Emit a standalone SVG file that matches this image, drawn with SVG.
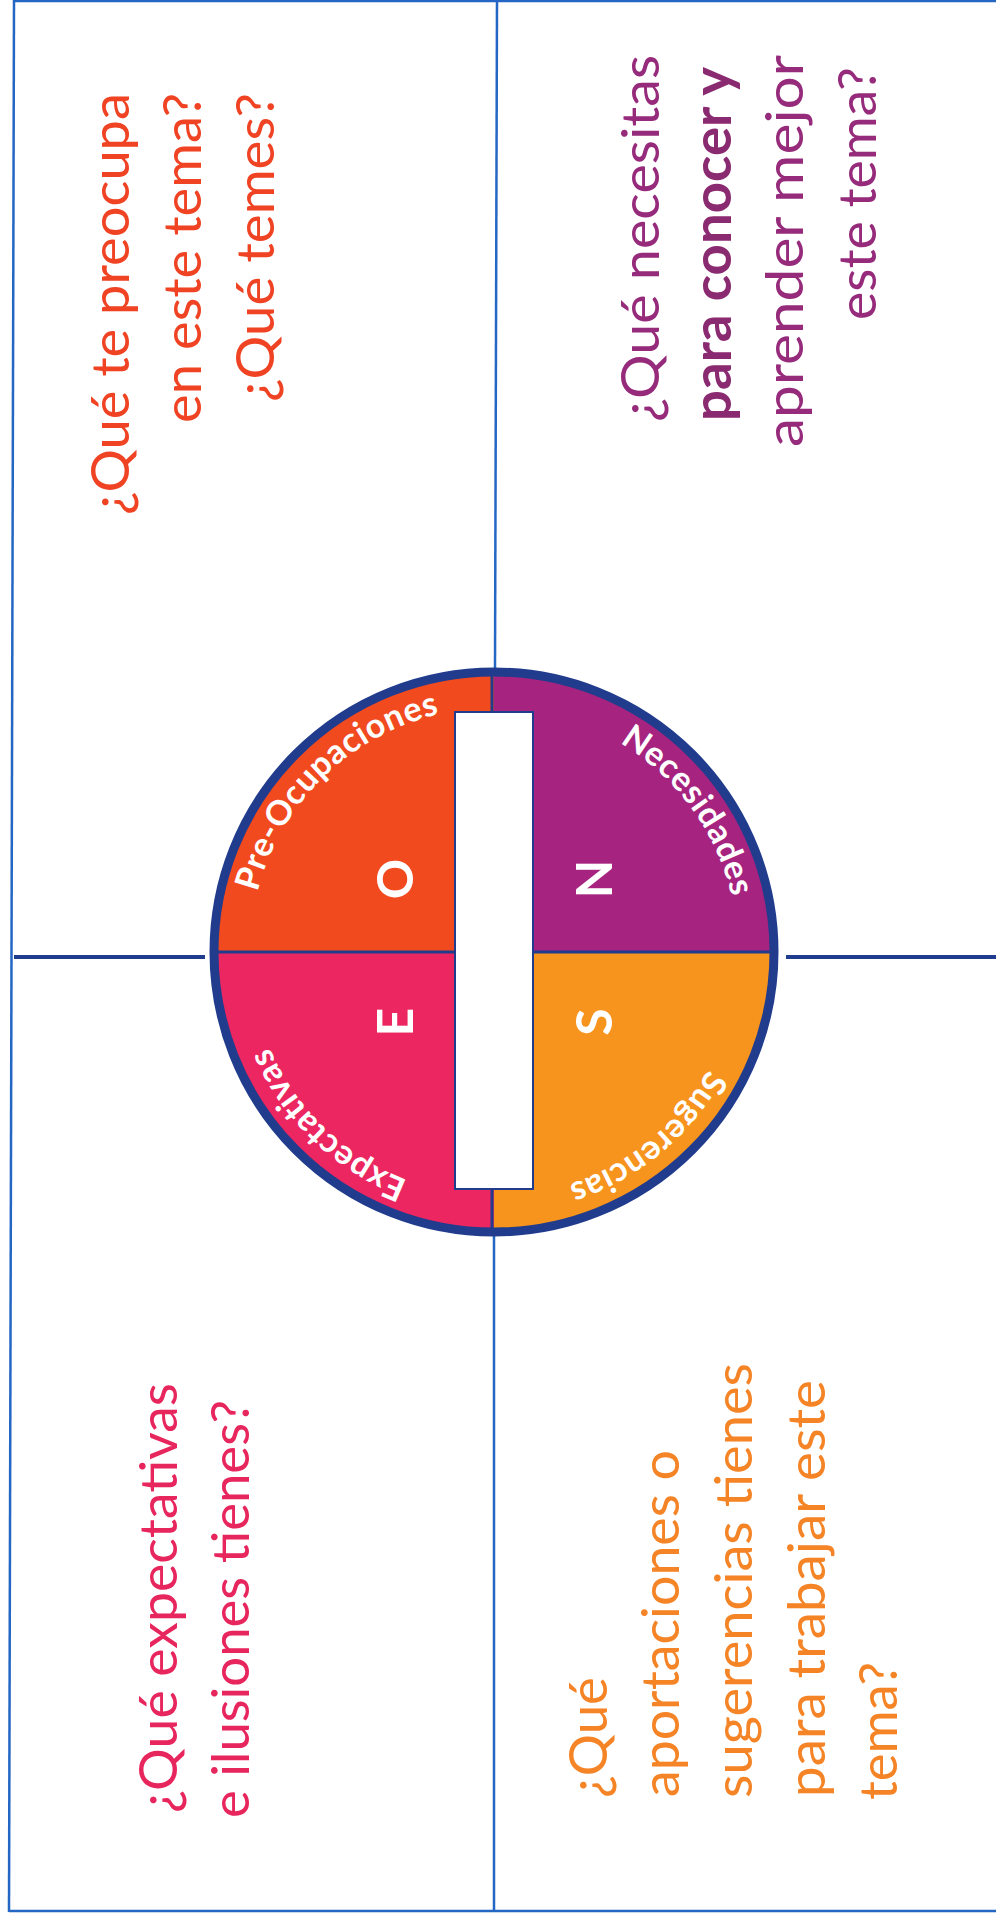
<svg xmlns="http://www.w3.org/2000/svg" width="996" height="1915" viewBox="0 0 996 1915">
<style>
.grid{stroke:#2466c4;stroke-width:2.5;fill:none}
.hline{stroke:#1f3c8e;stroke-width:4;fill:none}
.q{font-family:Lato,"Liberation Sans",sans-serif;font-size:53px}
.lbl{font-family:Lato,"Liberation Sans",sans-serif;font-size:34px;font-weight:bold;fill:#ffffff;letter-spacing:0.5px}
.big{font-family:Lato,"Liberation Sans",sans-serif;font-size:50px;font-weight:bold;fill:#ffffff}
</style>
<defs>
<path id="ring" d="M250,952 A244,244 0 1 1 738,952 A244,244 0 1 1 250,952"/>
</defs>
<rect width="996" height="1915" fill="#ffffff"/>
<g id="connectors">
<line class="grid" x1="14" y1="1" x2="996" y2="1"/>
<line class="grid" x1="14" y1="0" x2="9" y2="1912"/>
<line class="grid" x1="9" y1="1911" x2="996" y2="1911"/>
<line class="grid" x1="497" y1="0" x2="495" y2="668"/>
<line class="grid" x1="494" y1="1236" x2="494" y2="1911"/>
<line class="hline" x1="14" y1="957" x2="205" y2="957"/>
<line class="hline" x1="786" y1="957" x2="996" y2="957"/>
</g>
<g id="wheel">
<path d="M494,952 L214,952 A280,280 0 0 1 494,672 Z" fill="#f24a1f"/>
<path d="M494,952 L494,672 A280,280 0 0 1 774,952 Z" fill="#a6237f"/>
<path d="M494,952 L774,952 A280,280 0 0 1 494,1232 Z" fill="#f7941e"/>
<path d="M494,952 L494,1232 A280,280 0 0 1 214,952 Z" fill="#ec2660"/>
<line x1="214" y1="952" x2="774" y2="952" stroke="#213c8d" stroke-width="3"/>
<line x1="492" y1="672" x2="492" y2="1232" stroke="#213c8d" stroke-width="3"/>
<circle cx="494" cy="952" r="280" fill="none" stroke="#213c8d" stroke-width="9"/>
<rect x="455" y="712" width="78" height="477" fill="#ffffff" stroke="#213c8d" stroke-width="2"/>
<text class="lbl"><textPath href="#ring" startOffset="12.69%" text-anchor="middle">Pre-Ocupaciones</textPath></text>
<text class="lbl"><textPath href="#ring" startOffset="40%" text-anchor="middle">Necesidades</textPath></text>
<text class="lbl"><textPath href="#ring" startOffset="64.03%" text-anchor="middle">Sugerencias</textPath></text>
<text class="lbl"><textPath href="#ring" startOffset="87.2%" text-anchor="middle">Expectativas</textPath></text>
<text class="big" transform="translate(395,879) rotate(-90)" text-anchor="middle" dy="0.36em">O</text>
<text class="big" transform="translate(594,879) rotate(-90)" text-anchor="middle" dy="0.36em">N</text>
<text class="big" transform="translate(395,1022) rotate(-90)" text-anchor="middle" dy="0.36em">E</text>
<text class="big" transform="translate(594,1022) rotate(-90)" text-anchor="middle" dy="0.36em">S</text>
</g>
<g id="preocupaciones" class="q" fill="#ef4323" transform="rotate(-90)">
<text x="-515" y="129" textLength="422" lengthAdjust="spacingAndGlyphs">¿Qué te preocupa</text>
<text x="-423" y="201" textLength="330" lengthAdjust="spacingAndGlyphs">en este tema?</text>
<text x="-402" y="274" textLength="309" lengthAdjust="spacingAndGlyphs">¿Qué temes?</text>
</g>
<g id="necesidades" class="q" fill="#962b7b" transform="rotate(-90)">
<text x="-422" y="659" textLength="367" lengthAdjust="spacingAndGlyphs">¿Qué necesitas</text>
<text x="-421" y="731" textLength="354" lengthAdjust="spacingAndGlyphs" font-weight="bold" fill="#8a2a70">para conocer y</text>
<text x="-447" y="803" textLength="392" lengthAdjust="spacingAndGlyphs">aprender mejor</text>
<text x="-320" y="876" textLength="253" lengthAdjust="spacingAndGlyphs">este tema?</text>
</g>
<g id="expectativas" class="q" fill="#e8265e" transform="rotate(-90)">
<text x="-1813" y="177" textLength="430" lengthAdjust="spacingAndGlyphs">¿Qué expectativas</text>
<text x="-1818" y="249" textLength="418" lengthAdjust="spacingAndGlyphs">e ilusiones tienes?</text>
</g>
<g id="sugerencias" class="q" fill="#f58426" transform="rotate(-90)">
<text x="-1798" y="607" textLength="121" lengthAdjust="spacingAndGlyphs">¿Qué</text>
<text x="-1797" y="679" textLength="347" lengthAdjust="spacingAndGlyphs">aportaciones o</text>
<text x="-1798" y="752" textLength="435" lengthAdjust="spacingAndGlyphs">sugerencias tienes</text>
<text x="-1797" y="825" textLength="417" lengthAdjust="spacingAndGlyphs">para trabajar este</text>
<text x="-1800" y="897" textLength="138" lengthAdjust="spacingAndGlyphs">tema?</text>
</g>
</svg>
